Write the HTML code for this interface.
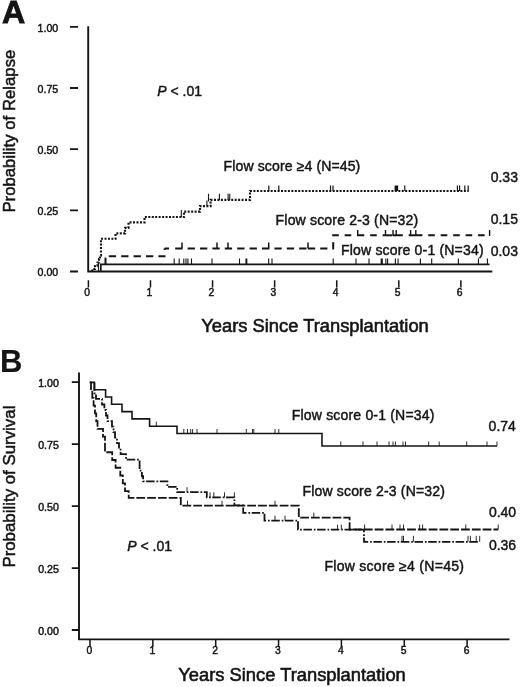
<!DOCTYPE html>
<html><head><meta charset="utf-8"><title>Figure</title>
<style>html,body{margin:0;padding:0;background:#fff}svg{display:block}text{font-family:"Liberation Sans",sans-serif;fill:#141414;stroke:#141414}</style></head><body>
<svg width="520" height="687" viewBox="0 0 520 687">
<rect width="520" height="687" fill="#fff"/>
<text transform="translate(1.9 23.4) scale(1.045 1)" font-size="30.8" font-weight="bold" stroke-width="0.8">A</text>
<text x="0.1" y="372.4" font-size="31" font-weight="bold" stroke-width="0.2">B</text>
<path d="M88.2 26.3 V271.5 H492.3" stroke="#141414" stroke-width="1.9" fill="none"/>
<path d="M70 271.50 H78 M70 210.32 H78 M70 149.15 H78 M70 87.98 H78 M70 26.80 H78" stroke="#141414" stroke-width="1.8" fill="none"/>
<path d="M88.40 280.2 V287.6 M150.48 280.2 V287.6 M212.56 280.2 V287.6 M274.64 280.2 V287.6 M336.72 280.2 V287.6 M398.80 280.2 V287.6 M460.88 280.2 V287.6" stroke="#141414" stroke-width="1.5" fill="none"/>
<text x="58.2" y="276.20" font-size="10.6" stroke-width="0.45" text-anchor="end">0.00</text>
<text x="58.2" y="215.02" font-size="10.6" stroke-width="0.45" text-anchor="end">0.25</text>
<text x="58.2" y="153.85" font-size="10.6" stroke-width="0.45" text-anchor="end">0.50</text>
<text x="58.2" y="92.68" font-size="10.6" stroke-width="0.45" text-anchor="end">0.75</text>
<text x="58.2" y="31.50" font-size="10.6" stroke-width="0.45" text-anchor="end">1.00</text>
<text x="87.20" y="295.5" font-size="10.3" stroke-width="0.45" text-anchor="middle">0</text>
<text x="149.28" y="295.5" font-size="10.3" stroke-width="0.45" text-anchor="middle">1</text>
<text x="211.36" y="295.5" font-size="10.3" stroke-width="0.45" text-anchor="middle">2</text>
<text x="273.44" y="295.5" font-size="10.3" stroke-width="0.45" text-anchor="middle">3</text>
<text x="335.52" y="295.5" font-size="10.3" stroke-width="0.45" text-anchor="middle">4</text>
<text x="397.60" y="295.5" font-size="10.3" stroke-width="0.45" text-anchor="middle">5</text>
<text x="459.68" y="295.5" font-size="10.3" stroke-width="0.45" text-anchor="middle">6</text>
<text transform="translate(15.2 212.6) rotate(-90)" font-size="16.5" stroke-width="0.5" textLength="163" lengthAdjust="spacingAndGlyphs">Probability of Relapse</text>
<text x="201.3" y="331.8" font-size="18.3" stroke-width="0.6" textLength="227.5" lengthAdjust="spacingAndGlyphs">Years Since Transplantation</text>
<path d="M100.8 271.5 V264.40 H489.5" stroke="#141414" stroke-width="1.7" fill="none"/>
<path d="M174.20 264.40 v-6.00 M179.20 264.40 v-6.00 M183.80 264.40 v-6.00 M186.00 264.40 v-6.00 M187.90 264.40 v-6.00 M191.50 264.40 v-6.00 M212.00 264.40 v-6.00 M239.50 264.40 v-6.00 M246.00 264.40 v-6.00 M246.80 264.40 v-6.00 M268.70 264.40 v-6.00 M272.00 264.40 v-6.00 M333.20 264.40 v-6.00 M356.00 264.40 v-6.00 M369.00 264.40 v-6.00 M381.20 264.40 v-6.00 M382.30 264.40 v-6.00 M385.90 264.40 v-6.00 M387.60 264.40 v-6.00 M395.40 264.40 v-6.00 M398.10 264.40 v-6.00 M420.40 264.40 v-6.00 M431.70 264.40 v-6.00 M458.40 264.40 v-6.00 M478.40 264.40 v-6.00 M487.40 264.40 v-6.00" stroke="#141414" stroke-width="1.1" fill="none"/>
<path d="M105.5 264 V257.6" stroke="#141414" stroke-width="2" fill="none"/>
<path d="M108.8 256.30 H165.5" stroke="#141414" stroke-width="2" fill="none" stroke-dasharray="7.3 5.1"/>
<path d="M164.6 250.10 V248.50 H307" stroke="#141414" stroke-width="2" fill="none" stroke-dasharray="1.6 0 4.4 6.2 7.3 5.1 7.3 5.1 7.3 5.1 7.3 5.1 7.3 5.1 7.3 5.1 7.3 5.1 7.3 5.1 7.3 5.1 7.3 5.1 7.3 5.1 7.3 5.1 7.3 5.1 7.3 5.1"/>
<path d="M308 248.50 H328" stroke="#141414" stroke-width="2" fill="none" stroke-dasharray="7.2 5"/>
<path d="M333.2 249.4 V242.2" stroke="#141414" stroke-width="2" fill="none"/>
<path d="M332.20 235.30 H357.70" stroke="#141414" stroke-width="2" fill="none" stroke-dasharray="6.6 5.85"/>
<path d="M357.70 235.30 H385.50" stroke="#141414" stroke-width="2" fill="none" stroke-dasharray="6.6 5.85"/>
<path d="M385.50 235.30 H393.00" stroke="#141414" stroke-width="2" fill="none" stroke-dasharray="6.6 5.85"/>
<path d="M393.00 235.30 H396.20" stroke="#141414" stroke-width="2" fill="none" stroke-dasharray="6.6 5.85"/>
<path d="M396.20 235.30 H410.60" stroke="#141414" stroke-width="2" fill="none" stroke-dasharray="6.6 5.85"/>
<path d="M410.60 235.30 H415.80" stroke="#141414" stroke-width="2" fill="none" stroke-dasharray="6.6 5.85"/>
<path d="M415.80 235.30 H486.50" stroke="#141414" stroke-width="2" fill="none" stroke-dasharray="6.6 5.85"/>
<path d="M182.00 248.50 v-6.00 M217.00 248.50 v-6.00 M228.00 248.50 v-6.00 M268.70 248.50 v-6.00 M308.00 248.50 v-6.00" stroke="#141414" stroke-width="1.5" fill="none"/>
<path d="M357.70 236.10 v-6.00 M385.50 236.10 v-6.00 M393.00 236.10 v-6.00 M396.20 236.10 v-6.00 M410.60 236.10 v-6.00 M415.80 236.10 v-6.00 M489.60 236.10 v-6.00" stroke="#141414" stroke-width="1.4" fill="none"/>
<path d="M92.30 271.40 V269.00 H95.00 V266.00 H97.50 V262.50 H99.00 V259.00 H100.00 V255.50 H101.00 V238.76 H115.50 V233.32 H125.00 V227.88 H128.50 V222.44 H144.50 V217.00 H184.00 V211.56 H200.00 V206.12 H210.60 V199.90 H250.00 V191.00 H468.70" stroke="#141414" stroke-width="2.15" fill="none" stroke-dasharray="2.0 1.45"/>
<path d="M98.5 271 V262.5" stroke="#141414" stroke-width="1.1" fill="none"/>
<path d="M181.30 217.00 v-7.00" stroke="#141414" stroke-width="1.1" fill="none"/>
<path d="M206.90 206.12 v-5.50" stroke="#141414" stroke-width="1.1" fill="none"/>
<path d="M208.50 201.50 v-7.70" stroke="#141414" stroke-width="1.1" fill="none"/>
<path d="M219.40 199.90 v-6.20 M228.10 199.90 v-6.20 M229.75 199.90 v-6.20" stroke="#141414" stroke-width="1.1" fill="none"/>
<path d="M268.80 191.00 v-5.60 M278.80 191.00 v-5.60 M330.50 191.00 v-5.60 M333.00 191.00 v-5.60 M395.20 191.00 v-5.60 M396.40 191.00 v-5.60 M397.60 191.00 v-5.60 M404.80 191.00 v-5.60 M457.40 191.00 v-5.60 M459.60 191.00 v-5.60 M464.80 191.00 v-5.60 M468.20 191.00 v-5.60" stroke="#141414" stroke-width="1.2" fill="none"/>
<text x="223.6" y="171.3" font-size="14.05" textLength="136.7" stroke-width="0.45">Flow score ≥4 (N=45)</text>
<text x="275.6" y="225" font-size="14.05" textLength="142.6" stroke-width="0.45">Flow score 2-3 (N=32)</text>
<text x="341" y="255.4" font-size="14.05" textLength="142.6" stroke-width="0.45">Flow score 0-1 (N=34)</text>
<text x="490.7" y="181.6" font-size="14" stroke-width="0.45">0.33</text>
<text x="490.7" y="224.3" font-size="14" stroke-width="0.45">0.15</text>
<text x="490.7" y="256.4" font-size="14" stroke-width="0.45">0.03</text>
<text x="157.3" y="95.5" font-size="14" stroke-width="0.45"><tspan font-style="italic">P</tspan> &lt; .01</text>
<path d="M79 372.6 V639.4 H509.5" stroke="#141414" stroke-width="1.9" fill="none"/>
<path d="M71.8 630.00 H79 M71.8 568.05 H79 M71.8 506.10 H79 M71.8 444.15 H79 M71.8 382.20 H79" stroke="#141414" stroke-width="1.8" fill="none"/>
<path d="M90.00 639.4 V646.8 M152.85 639.4 V646.8 M215.70 639.4 V646.8 M278.55 639.4 V646.8 M341.40 639.4 V646.8 M404.25 639.4 V646.8 M467.10 639.4 V646.8" stroke="#141414" stroke-width="1.5" fill="none"/>
<text x="58.8" y="634.90" font-size="10.6" stroke-width="0.45" text-anchor="end">0.00</text>
<text x="58.8" y="572.95" font-size="10.6" stroke-width="0.45" text-anchor="end">0.25</text>
<text x="58.8" y="511.00" font-size="10.6" stroke-width="0.45" text-anchor="end">0.50</text>
<text x="58.8" y="449.05" font-size="10.6" stroke-width="0.45" text-anchor="end">0.75</text>
<text x="58.8" y="387.10" font-size="10.6" stroke-width="0.45" text-anchor="end">1.00</text>
<text x="89.40" y="654.3" font-size="10.3" stroke-width="0.45" text-anchor="middle">0</text>
<text x="152.25" y="654.3" font-size="10.3" stroke-width="0.45" text-anchor="middle">1</text>
<text x="215.10" y="654.3" font-size="10.3" stroke-width="0.45" text-anchor="middle">2</text>
<text x="277.95" y="654.3" font-size="10.3" stroke-width="0.45" text-anchor="middle">3</text>
<text x="340.80" y="654.3" font-size="10.3" stroke-width="0.45" text-anchor="middle">4</text>
<text x="403.65" y="654.3" font-size="10.3" stroke-width="0.45" text-anchor="middle">5</text>
<text x="466.50" y="654.3" font-size="10.3" stroke-width="0.45" text-anchor="middle">6</text>
<text transform="translate(15.3 567.6) rotate(-90)" font-size="16.5" stroke-width="0.5" textLength="162" lengthAdjust="spacingAndGlyphs">Probability of Survival</text>
<text x="178.3" y="681.4" font-size="18.3" stroke-width="0.6" textLength="227.5" lengthAdjust="spacingAndGlyphs">Years Since Transplantation</text>
<path d="M89.75 382.40 H94.40 V389.70 H105.60 V397.00 H111.60 V404.30 H122.00 V411.60 H132.00 V418.90 H149.60 V426.20 H177.00 V433.50 H322.00 V446.00 H497.00" stroke="#141414" stroke-width="1.6" fill="none"/>
<path d="M156.30 426.20 v-4.50" stroke="#141414" stroke-width="0.9" fill="none"/>
<path d="M183.80 433.50 v-4.50 M187.50 433.50 v-4.50 M190.70 433.50 v-4.50 M192.60 433.50 v-4.50 M197.00 433.50 v-4.50 M217.00 433.50 v-4.50 M246.30 433.50 v-4.50 M252.50 433.50 v-4.50 M253.80 433.50 v-4.50 M275.00 433.50 v-4.50 M278.80 433.50 v-4.50" stroke="#141414" stroke-width="0.9" fill="none"/>
<path d="M340.80 446.00 v-4.50 M363.00 446.00 v-4.50 M377.00 446.00 v-4.50 M389.00 446.00 v-4.50 M393.00 446.00 v-4.50 M395.40 446.00 v-4.50 M403.00 446.00 v-4.50 M405.50 446.00 v-4.50 M428.70 446.00 v-4.50 M439.20 446.00 v-4.50 M466.70 446.00 v-4.50 M487.00 446.00 v-4.50 M497.00 446.00 v-4.50" stroke="#141414" stroke-width="0.9" fill="none"/>
<path d="M89.75 382.40 H91.00 V390.16 H92.30 V397.92 H93.60 V405.68 H95.00 V413.44 H96.20 V421.20 H97.50 V428.96 H103.00 V436.72 H105.00 V452.24 H112.20 V460.00 H115.60 V467.76 H120.30 V475.52 H122.80 V483.28 H125.00 V491.04 H128.70 V497.80 H180.80 V505.70 H298.80 V517.60 H349.60 V529.50 H498.20" stroke="#141414" stroke-width="1.8" fill="none" stroke-dasharray="8.8 2.0"/>
<path d="M187.50 505.70 v-5.00 M222.00 505.70 v-5.00 M275.00 505.70 v-5.00" stroke="#141414" stroke-width="0.9" fill="none"/>
<path d="M313.80 517.60 v-5.00" stroke="#141414" stroke-width="0.9" fill="none"/>
<path d="M364.60 529.50 v-5.00 M392.00 529.50 v-5.00 M400.00 529.50 v-5.00 M403.50 529.50 v-5.00 M419.60 529.50 v-5.00 M422.60 529.50 v-5.00 M465.80 529.50 v-5.00 M498.20 529.50 v-5.00" stroke="#141414" stroke-width="0.9" fill="none"/>
<path d="M94.40 382.40 V393.44 H96.00 V398.96 H102.00 V404.48 H104.40 V410.00 H106.00 V415.52 H107.50 V421.04 H112.00 V426.56 H113.50 V432.08 H115.00 V437.60 H117.00 V443.12 H119.00 V448.64 H120.60 V454.16 H126.00 V459.68 H139.60 V470.72 H141.90 V476.24 H143.10 V481.40 H167.40 V486.80 H177.20 V492.20 H206.80 V497.40 H234.40 V505.40 H243.20 V512.80 H264.50 V520.60 H298.00 V529.60 H364.00 V541.80 H479.70" stroke="#141414" stroke-width="1.8" fill="none" stroke-dasharray="8.5 1.9 1.7 1.6"/>
<path d="M187.00 492.20 v-5.00" stroke="#141414" stroke-width="0.9" fill="none"/>
<path d="M210.00 497.40 v-5.00 M213.80 497.40 v-5.00 M224.50 497.40 v-5.00 M234.40 497.40 v-5.00" stroke="#141414" stroke-width="0.9" fill="none"/>
<path d="M275.00 520.60 v-5.00 M285.00 520.60 v-5.00" stroke="#141414" stroke-width="0.9" fill="none"/>
<path d="M337.50 529.60 v-5.00 M341.30 529.60 v-5.00" stroke="#141414" stroke-width="0.9" fill="none"/>
<path d="M402.00 541.80 v-6.00 M403.50 541.80 v-6.00 M413.40 541.80 v-6.00 M468.00 541.80 v-6.00 M470.40 541.80 v-6.00 M476.20 541.80 v-6.00 M479.70 541.80 v-6.00" stroke="#141414" stroke-width="0.9" fill="none"/>
<text x="291.8" y="420" font-size="14.05" textLength="142.6" stroke-width="0.45">Flow score 0-1 (N=34)</text>
<text x="302.4" y="496.2" font-size="14.05" textLength="142.6" stroke-width="0.45">Flow score 2-3 (N=32)</text>
<text x="324.4" y="571" font-size="14.05" textLength="139.6" stroke-width="0.45">Flow score ≥4 (N=45)</text>
<text x="488.6" y="430.5" font-size="14" stroke-width="0.45">0.74</text>
<text x="488.9" y="517.3" font-size="14" stroke-width="0.45">0.40</text>
<text x="488.9" y="549.6" font-size="14" stroke-width="0.45">0.36</text>
<text x="127.3" y="550.5" font-size="14" stroke-width="0.45"><tspan font-style="italic">P</tspan> &lt; .01</text>
</svg></body></html>
